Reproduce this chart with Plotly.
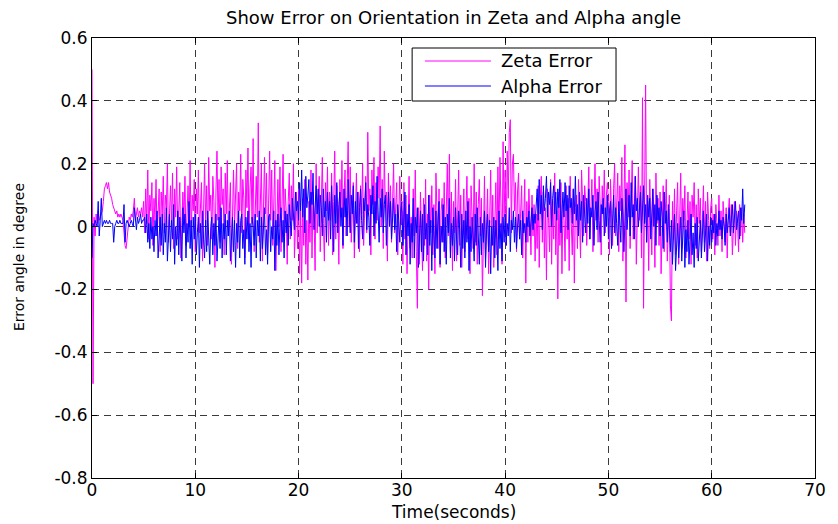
import plotly.graph_objects as go

# Sampling interval of the logged orientation errors (seconds)
SAMPLE_DT = 0.1

# Zeta orientation error (degree), one row per second of logging
zeta_rows = [
    [0.50, -0.50, 0.03, -0.03, 0.04, 0.01, 0.05, 0.02, 0.03, 0.04],
    [0.05, 0.08, 0.12, 0.13, 0.14, 0.12, 0.14, 0.11, 0.10, 0.09],
    [0.07, 0.06, 0.05, 0.04, 0.05, 0.03, 0.04, 0.03, 0.04, 0.03],
    [0.02, -0.02, -0.06, -0.07, -0.03, 0.01, 0.03, 0.02, 0.04, 0.03],
    [0.05, 0.09, 0.02, 0.04, 0.06, 0.03, 0.05, 0.04, 0.06, 0.03],
    [0.08, -0.02, 0.12, 0.01, 0.18, -0.04, 0.10, 0.05, 0.14, -0.06],
    [0.09, 0.02, 0.15, -0.03, 0.07, 0.12, -0.08, 0.11, 0.04, 0.16],
    [-0.02, 0.10, 0.06, 0.20, -0.05, 0.08, 0.13, 0.01, 0.17, -0.07],
    [0.12, 0.03, 0.19, -0.04, 0.09, 0.14, -0.10, 0.06, 0.11, 0.02],
    [0.16, -0.06, 0.08, 0.13, 0.00, 0.21, -0.03, 0.10, 0.05, 0.15],
    [-0.08, 0.12, 0.04, 0.18, -0.02, 0.09, 0.14, -0.11, 0.07, 0.20],
    [0.01, 0.13, -0.06, 0.22, 0.05, 0.10, -0.04, 0.16, 0.08, -0.13],
    [0.11, 0.24, 0.02, 0.15, -0.05, 0.19, 0.07, 0.12, -0.09, 0.17],
    [0.04, 0.21, -0.03, 0.10, 0.14, -0.12, 0.08, 0.18, 0.00, 0.13],
    [0.20, -0.07, 0.11, 0.05, 0.23, -0.02, 0.15, 0.09, -0.10, 0.18],
    [0.06, 0.25, -0.04, 0.12, 0.19, 0.01, 0.28, -0.08, 0.10, 0.16],
    [0.03, 0.33, -0.05, 0.14, 0.20, -0.11, 0.09, 0.22, 0.04, 0.17],
    [-0.09, 0.13, 0.24, 0.02, 0.18, -0.06, 0.11, 0.21, -0.14, 0.07],
    [0.15, 0.00, 0.19, -0.08, 0.10, 0.23, -0.03, 0.12, 0.05, -0.12],
    [0.08, 0.17, -0.04, 0.13, 0.02, 0.20, -0.10, 0.06, 0.11, -0.07],
    [0.12, -0.15, 0.05, -0.18, 0.09, -0.06, 0.15, -0.12, 0.02, -0.17],
    [0.08, -0.05, 0.18, -0.10, 0.11, 0.03, -0.14, 0.20, -0.02, 0.07],
    [0.16, -0.08, 0.10, 0.22, 0.01, -0.11, 0.14, 0.05, 0.19, -0.06],
    [0.11, 0.02, 0.17, -0.09, 0.08, 0.24, -0.04, 0.13, 0.06, -0.12],
    [0.15, 0.03, 0.21, -0.07, 0.10, 0.18, -0.03, 0.12, 0.27, 0.00],
    [0.19, -0.05, 0.09, 0.14, -0.10, 0.06, 0.17, 0.01, 0.11, -0.08],
    [0.13, 0.04, 0.20, -0.06, 0.10, 0.16, -0.02, 0.30, 0.05, 0.12],
    [-0.09, 0.18, 0.07, 0.22, -0.04, 0.14, 0.02, 0.19, 0.09, 0.32],
    [0.00, 0.15, -0.07, 0.24, 0.06, 0.11, -0.11, 0.17, 0.03, 0.13],
    [-0.05, 0.10, 0.20, -0.02, 0.08, 0.14, -0.09, 0.05, 0.16, 0.01],
    [0.05, -0.12, 0.14, -0.04, 0.10, -0.15, 0.08, 0.16, -0.07, 0.03],
    [-0.10, 0.12, -0.03, 0.18, -0.08, -0.26, 0.06, -0.12, 0.11, 0.00],
    [-0.14, 0.09, -0.06, 0.15, -0.11, 0.04, -0.20, 0.10, -0.02, 0.13],
    [-0.09, 0.07, -0.15, 0.17, 0.01, -0.07, 0.12, -0.13, 0.05, 0.09],
    [-0.05, 0.14, -0.10, 0.06, 0.20, -0.03, 0.23, -0.08, 0.11, -0.14],
    [0.08, -0.02, 0.15, -0.11, 0.04, 0.18, -0.06, 0.10, -0.13, 0.02],
    [0.12, -0.08, 0.06, 0.16, -0.04, 0.09, -0.15, 0.13, 0.03, -0.07],
    [0.20, -0.05, 0.11, -0.12, 0.07, 0.15, -0.03, 0.09, -0.22, 0.05],
    [0.16, -0.10, 0.04, 0.12, -0.15, 0.08, 0.18, -0.06, 0.10, -0.13],
    [0.02, 0.14, -0.09, 0.19, -0.04, 0.22, 0.06, -0.12, 0.27, 0.03],
    [0.18, -0.06, 0.24, 0.09, 0.30, 0.34, -0.02, 0.20, 0.23, 0.05],
    [0.14, -0.08, 0.11, 0.17, -0.04, 0.09, 0.13, -0.10, 0.06, 0.15],
    [-0.18, 0.08, -0.05, 0.12, 0.02, -0.09, 0.10, -0.03, 0.07, -0.11],
    [0.04, -0.07, 0.13, -0.13, 0.09, 0.16, -0.05, 0.11, -0.10, 0.06],
    [-0.17, 0.12, 0.03, -0.08, 0.15, -0.12, 0.08, -0.04, 0.17, -0.09],
    [0.05, -0.23, 0.11, -0.06, 0.14, -0.15, 0.07, 0.02, -0.11, 0.13],
    [-0.04, 0.09, -0.14, 0.16, 0.01, -0.09, 0.12, -0.18, 0.06, 0.10],
    [-0.07, 0.15, 0.03, -0.10, 0.18, 0.05, -0.03, 0.13, 0.08, -0.06],
    [0.11, 0.19, -0.04, 0.09, 0.15, -0.08, 0.06, 0.20, 0.02, 0.12],
    [-0.05, 0.16, 0.07, -0.09, 0.13, 0.04, 0.18, -0.02, 0.10, 0.14],
    [0.08, -0.09, 0.15, 0.02, -0.06, 0.12, 0.20, -0.03, 0.10, 0.17],
    [-0.08, 0.13, 0.05, 0.22, -0.11, 0.09, 0.26, -0.24, 0.14, 0.03],
    [0.18, -0.07, 0.11, 0.21, -0.04, 0.08, 0.16, -0.12, 0.06, 0.19],
    [0.02, 0.13, -0.10, 0.41, -0.26, 0.12, 0.45, -0.05, 0.08, -0.14],
    [0.15, 0.03, -0.09, 0.12, 0.06, -0.13, 0.17, 0.01, 0.09, -0.06],
    [0.11, -0.15, 0.04, 0.13, -0.08, 0.07, 0.15, -0.11, 0.02, 0.10],
    [-0.25, -0.30, 0.08, -0.04, 0.12, -0.09, 0.05, 0.14, -0.12, 0.03],
    [0.17, -0.07, 0.09, 0.02, 0.13, -0.10, 0.06, 0.11, -0.04, 0.08],
    [-0.12, 0.10, 0.03, 0.14, -0.06, 0.07, -0.10, 0.12, 0.01, 0.09],
    [-0.08, 0.05, 0.13, -0.05, 0.08, -0.11, 0.11, 0.02, -0.07, 0.06],
    [0.09, -0.04, 0.04, -0.09, 0.07, 0.01, -0.06, 0.10, -0.03, 0.05],
    [-0.08, 0.08, 0.02, -0.05, 0.06, -0.10, 0.04, 0.09, -0.02, 0.07],
    [-0.09, 0.03, 0.08, -0.06, 0.05, 0.01, -0.08, 0.07, -0.03, 0.06],
    [-0.05, 0.04, -0.02],
]

# Alpha orientation error (degree), one row per second of logging
alpha_rows = [
    [-0.10, 0.01, 0.00, 0.02, 0.01, 0.00, 0.08, -0.03, 0.02, 0.09],
    [0.00, 0.01, 0.02, 0.01, 0.02, 0.01, 0.01, 0.02, 0.01, 0.01],
    [0.01, -0.05, 0.00, 0.01, 0.02, 0.01, 0.01, 0.02, 0.01, 0.01],
    [0.01, 0.07, -0.05, 0.01, 0.02, 0.01, 0.00, 0.01, 0.02, 0.01],
    [0.00, 0.06, 0.02, -0.01, 0.03, 0.01, 0.02, 0.04, 0.01, 0.02],
    [0.02, 0.03, -0.02, 0.04, -0.05, 0.01, -0.07, 0.03, -0.04, 0.00],
    [-0.08, 0.02, -0.03, 0.05, -0.10, -0.01, 0.03, -0.06, 0.04, -0.09],
    [0.01, -0.05, 0.06, -0.11, -0.02, 0.04, -0.08, 0.02, -0.04, 0.07],
    [-0.12, 0.00, -0.06, 0.05, -0.09, 0.03, -0.03, -0.11, 0.06, -0.02],
    [0.04, -0.10, 0.01, -0.05, 0.08, -0.07, 0.02, -0.12, 0.03, -0.04],
    [0.04, -0.09, -0.02, 0.03, -0.13, 0.01, -0.07, 0.05, -0.04, -0.10],
    [0.02, -0.08, 0.05, -0.05, -0.12, 0.00, 0.03, -0.09, 0.01, -0.06],
    [0.04, -0.11, -0.01, 0.03, -0.07, 0.06, -0.10, 0.01, -0.04, 0.04],
    [-0.09, 0.02, -0.03, 0.05, -0.11, 0.00, 0.03, -0.08, 0.02, -0.13],
    [0.01, -0.05, 0.05, -0.10, 0.02, 0.04, -0.07, -0.01, -0.12, 0.03],
    [-0.04, 0.05, -0.08, 0.01, -0.13, 0.03, 0.00, -0.06, 0.04, -0.10],
    [0.02, -0.03, 0.05, -0.11, 0.03, -0.07, 0.01, 0.06, -0.09, -0.01],
    [-0.12, 0.03, 0.04, -0.08, 0.00, -0.04, 0.05, -0.14, 0.02, -0.06],
    [0.04, -0.09, 0.01, 0.06, -0.05, 0.02, -0.10, 0.05, -0.02, 0.04],
    [-0.06, 0.07, 0.02, -0.03, 0.09, 0.04, -0.01, 0.11, 0.05, 0.08],
    [0.02, 0.14, 0.05, 0.18, 0.03, 0.12, -0.02, 0.16, 0.06, 0.10],
    [0.15, 0.01, 0.11, 0.07, 0.17, -0.01, 0.09, 0.13, 0.04, 0.12],
    [0.00, 0.10, 0.06, -0.03, 0.12, 0.03, 0.08, -0.05, 0.11, 0.02],
    [0.08, -0.04, 0.13, 0.04, -0.08, 0.10, 0.01, 0.14, -0.02, 0.07],
    [0.11, 0.00, 0.06, -0.06, 0.12, 0.03, 0.09, -0.03, 0.15, 0.05],
    [-0.02, 0.10, 0.04, 0.13, -0.05, 0.08, 0.01, 0.11, -0.07, 0.06],
    [0.12, 0.02, -0.04, 0.09, 0.05, 0.14, -0.01, 0.07, 0.03, -0.06],
    [0.10, 0.04, 0.13, -0.03, 0.08, 0.01, 0.16, 0.05, -0.05, 0.09],
    [0.03, 0.12, -0.02, 0.07, 0.10, -0.06, 0.05, 0.11, 0.00, 0.08],
    [-0.04, 0.06, 0.09, -0.01, 0.04, -0.08, 0.07, 0.02, -0.05, 0.05],
    [0.08, -0.06, 0.02, 0.11, -0.09, 0.04, -0.03, 0.07, -0.12, 0.01],
    [-0.05, 0.09, -0.10, 0.03, -0.02, 0.06, -0.13, 0.00, 0.05, -0.08],
    [0.04, -0.11, 0.07, -0.04, 0.01, -0.09, 0.10, -0.06, 0.02, -0.14],
    [0.06, -0.03, -0.10, 0.05, -0.07, 0.02, 0.08, -0.12, 0.00, -0.05],
    [0.07, -0.08, 0.03, -0.12, 0.04, -0.02, 0.09, -0.10, 0.01, -0.06],
    [0.03, -0.11, 0.06, -0.04, -0.09, 0.05, -0.01, -0.13, 0.04, -0.07],
    [0.02, -0.10, 0.05, -0.05, 0.08, -0.14, 0.00, -0.08, 0.03, -0.03],
    [-0.11, 0.04, -0.06, 0.06, -0.02, -0.12, 0.03, -0.09, 0.01, -0.05],
    [0.05, -0.13, -0.01, 0.04, -0.08, 0.02, -0.15, 0.00, -0.06, 0.03],
    [-0.10, 0.02, -0.04, -0.14, 0.05, -0.07, 0.01, -0.11, 0.03, -0.05],
    [0.04, -0.06, 0.01, -0.03, 0.06, -0.08, 0.02, -0.01, 0.05, -0.05],
    [0.03, -0.07, 0.00, 0.04, -0.04, 0.02, -0.09, 0.05, -0.02, 0.01],
    [-0.05, 0.03, 0.00, 0.05, -0.03, 0.02, 0.06, -0.01, 0.04, 0.01],
    [0.06, 0.12, 0.02, 0.15, 0.04, 0.10, -0.01, 0.13, 0.05, 0.09],
    [0.16, 0.03, 0.11, 0.07, 0.14, 0.00, 0.09, 0.13, 0.04, 0.11],
    [0.02, 0.12, 0.06, 0.15, -0.02, 0.08, 0.11, 0.03, 0.14, 0.05],
    [0.10, -0.01, 0.13, 0.06, 0.09, 0.01, 0.12, 0.04, 0.16, 0.02],
    [0.07, -0.03, 0.11, 0.02, 0.08, -0.05, 0.10, 0.04, -0.02, 0.09],
    [0.01, 0.12, -0.04, 0.06, 0.03, 0.10, -0.06, 0.05, 0.08, -0.01],
    [0.11, 0.02, -0.05, 0.07, 0.04, 0.09, -0.03, 0.06, 0.00, 0.10],
    [-0.04, 0.05, 0.08, -0.07, 0.03, 0.10, -0.02, 0.06, 0.01, -0.06],
    [0.08, 0.02, -0.05, 0.09, 0.04, -0.08, 0.07, 0.12, -0.01, 0.05],
    [0.10, -0.03, 0.14, 0.03, 0.07, -0.04, 0.16, 0.05, 0.09, 0.00],
    [0.06, 0.11, -0.02, 0.08, 0.13, 0.01, 0.07, -0.05, 0.10, 0.03],
    [0.09, -0.04, 0.05, 0.12, 0.00, 0.07, -0.06, 0.10, 0.02, 0.06],
    [-0.03, 0.08, 0.03, -0.07, 0.11, 0.01, 0.05, -0.05, 0.07, -0.02],
    [-0.08, 0.02, -0.12, -0.03, 0.04, -0.14, -0.06, 0.01, -0.10, -0.02],
    [0.03, -0.11, -0.05, 0.05, -0.13, -0.01, -0.08, 0.02, -0.12, -0.04],
    [0.04, -0.09, -0.02, -0.13, 0.01, -0.07, 0.03, -0.11, -0.04, 0.02],
    [-0.10, -0.01, 0.05, -0.08, -0.03, 0.04, -0.11, 0.00, -0.06, 0.03],
    [-0.05, 0.02, -0.02, 0.04, -0.06, 0.01, -0.03, 0.05, -0.01, 0.02],
    [-0.04, 0.03, 0.00, -0.06, 0.04, -0.02, 0.02, 0.06, -0.03, 0.01],
    [0.07, -0.02, 0.04, 0.08, -0.01, 0.03, 0.05, -0.04, 0.06, 0.02],
    [0.12, 0.01, 0.07],
]

zeta_error = [v for row in zeta_rows for v in row]
alpha_error = [v for row in alpha_rows for v in row]
time_s = [round(i * SAMPLE_DT, 1) for i in range(len(zeta_error))]

x_tick_vals = [0, 10, 20, 30, 40, 50, 60, 70]
y_tick_vals = [-0.8, -0.6, -0.4, -0.2, 0, 0.2, 0.4, 0.6]
y_tick_text = ["-0.8", "-0.6", "-0.4", "-0.2", "0", "0.2", "0.4", "0.6"]

series_names = ["Zeta Error", "Alpha Error"]
series_colors = ["#FF00FF", "#0000FF"]

FONT = "DejaVu Sans, Liberation Sans, Arial, sans-serif"
W, H = 838, 524
L, R, T, B = 92, 12, 38, 46
PW, PH = W - L - R, H - T - B


def px_to_paper(px, py):
    return (px - L) / PW, (H - B - py) / PH


fig = go.Figure()
for name, values, color in zip(series_names, [zeta_error, alpha_error], series_colors):
    fig.add_trace(go.Scatter(
        x=time_s, y=values, mode="lines", name=name,
        line=dict(color=color, width=1), showlegend=False,
    ))

axis_common = dict(
    showline=True, linecolor="black", linewidth=1, mirror="ticks",
    ticks="inside", ticklen=5, tickcolor="black",
    showgrid=True, gridcolor="#3a3a3a", gridwidth=1, griddash="7px,5px",
    zeroline=False, tickfont=dict(family=FONT, size=17, color="black"),
)

fig.update_layout(
    width=W, height=H,
    margin=dict(l=L, r=R, t=T, b=B),
    paper_bgcolor="white", plot_bgcolor="white",
    xaxis=dict(range=[0, 70], tickvals=x_tick_vals, ticklabelstandoff=-3,
               **axis_common),
    yaxis=dict(range=[-0.8, 0.6], tickvals=y_tick_vals, ticktext=y_tick_text,
               **axis_common),
    showlegend=False,
)

annotations = [
    dict(text="Show Error on Orientation in Zeta and Alpha angle",
         x=0.5, y=(H - B - 17) / PH, xref="paper", yref="paper",
         showarrow=False, font=dict(family=FONT, size=18, color="black"),
         xanchor="center", yanchor="middle"),
    dict(text="Time(seconds)", x=0.5, y=(H - B - 512) / PH,
         xref="paper", yref="paper", showarrow=False,
         font=dict(family=FONT, size=17, color="black"),
         xanchor="center", yanchor="middle"),
    dict(text="Error angle in degree", x=(18 - L) / PW, y=(H - B - 257) / PH,
         xref="paper", yref="paper", showarrow=False, textangle=-90,
         font=dict(family=FONT, size=14, color="black"),
         xanchor="center", yanchor="middle"),
]

# Legend box with two line samples
bx0, by0 = px_to_paper(417, 101)
bx1, by1 = px_to_paper(624, 48)
shapes = [dict(type="rect", xref="paper", yref="paper", x0=bx0, y0=by0,
               x1=bx1, y1=by1, line=dict(color="black", width=1),
               fillcolor="white", layer="above")]
for i, (name, color) in enumerate(zip(series_names, series_colors)):
    row_y = 61 + 25 * i
    lx0, ly = px_to_paper(430, row_y)
    lx1, _ = px_to_paper(497, row_y)
    shapes.append(dict(type="line", xref="paper", yref="paper", x0=lx0, x1=lx1,
                       y0=ly, y1=ly, line=dict(color=color, width=1),
                       layer="above"))
    tx, _ = px_to_paper(505, row_y)
    annotations.append(dict(text=name, x=tx, y=ly, xref="paper", yref="paper",
                            showarrow=False, xanchor="left", yanchor="middle",
                            font=dict(family=FONT, size=18, color="black")))

fig.update_layout(shapes=shapes, annotations=annotations)
fig.write_html("out.html")
